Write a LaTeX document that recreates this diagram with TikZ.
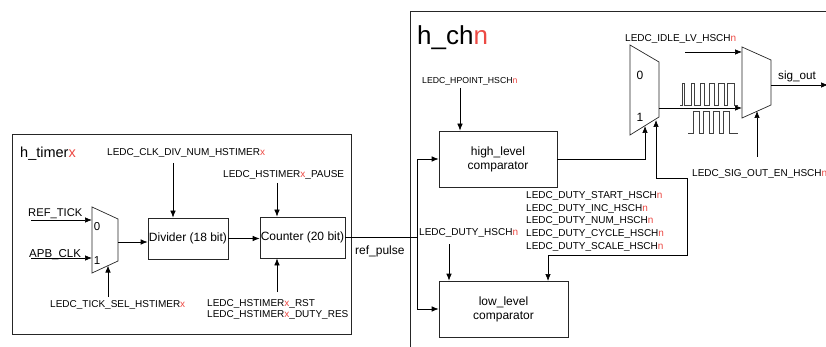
\documentclass[tikz,border=0pt]{standalone}
\usepackage{fontspec}
\setmainfont{Liberation Sans}
\usetikzlibrary{arrows.meta,positioning}
\definecolor{idxred}{HTML}{EC4A44}
\newcommand{\idxx}{\textcolor{idxred}{x}}
\newcommand{\idxn}{\textcolor{idxred}{n}}

\begin{document}
\begin{tikzpicture}[x=1pt,y=-1pt,font=\fontsize{10}{12}\selectfont,
  frame/.style={draw=black!85, line width=0.7pt},
  blk/.style={frame, align=center, inner sep=0pt, font=\fontsize{12}{14}\selectfont},
  wire/.style={line width=0.7pt},
  arr/.style={wire, -{Latex[length=7pt,width=5.5pt]}},
  reg/.style={inner sep=0pt, anchor=base west},
  wave/.style={black!75, line width=0.6pt}]
\useasboundingbox (0,0) rectangle (826,347);

% h_timerx: clock select, divider and counter
\draw[frame] (12,134) rectangle (351,334);
\node[reg, font=\fontsize{14.5}{17}\selectfont] (tmrname) at (20,158) {h\_timer\idxx};
\draw[frame] (92,207) coordinate (m1a) -- (118,219) -- (118,261) -- (92,273) -- cycle;
\node[font=\fontsize{11.5}{13}\selectfont] (m1zero) at (97,227) {0};
\node[font=\fontsize{11.5}{13}\selectfont] (m1one) at (97,261) {1};
\node[reg, font=\fontsize{11.2}{13}\selectfont] (reftick) at (28,217) {REF\_TICK};
\node[reg, font=\fontsize{11.5}{13}\selectfont] (apbclk) at (29,257) {APB\_CLK};
\coordinate (reftickin) at (31,220);
\coordinate (apbclkin) at (31,258);
\draw[arr] (reftickin) -- (reftickin -| m1a);
\draw[arr] (apbclkin) -- (apbclkin -| m1a);
\node[reg] (ticksel) at (50,307) {LEDC\_TICK\_SEL\_HSTIMER\idxx};
\coordinate (tickselin) at (108,297);
\draw[arr] (tickselin) -- (108,265.5);

\node[blk, minimum width=80pt, minimum height=41pt] (div) at (188,238.5) {Divider (18 bit)};
\node[blk, minimum width=85pt, minimum height=41pt] (cnt) at (302.5,237.5) {Counter (20 bit)};
\coordinate (m1out) at (118,242);
\draw[arr] (m1out) -- (m1out -| div.west);
\draw[arr] (div.east) -- (div.east -| cnt.west);

\node[reg] (divnum) at (107,156) {LEDC\_CLK\_DIV\_NUM\_HSTIMER\idxx};
\coordinate (divnumin) at (173,163);
\draw[arr] (divnumin) -- (divnumin |- div.north);
\node[reg] (pause) at (223,178) {LEDC\_HSTIMER\idxx\_PAUSE};
\coordinate (pausein) at (277,183);
\draw[arr] (pausein) -- (pausein |- cnt.north);
\node[reg] (rst) at (207,306) {LEDC\_HSTIMER\idxx\_RST};
\node[reg] (dutyres) at (207,317) {LEDC\_HSTIMER\idxx\_DUTY\_RES};
\coordinate (rstin) at (277,292);
\draw[arr] (rstin) -- (rstin |- cnt.south);

% ref_pulse into the channel
\node[reg, font=\fontsize{12}{14}\selectfont] (refpulse) at (355,254) {ref\_pulse};
\coordinate (bus) at (417,238);

% h_chn: comparators and output muxes
\draw[frame] (826,11) -- (410,11) -- (410,350);
\node[reg, font=\fontsize{26}{30}\selectfont] (chname) at (417,45) {h\_ch\idxn};
\node[blk, minimum width=118pt, minimum height=56pt] (hicmp) at (498,159) {high\_level\\comparator};
\node[blk, minimum width=129pt, minimum height=56pt] (locmp) at (503.5,309) {low\_level\\comparator};
\draw[wire] (cnt.east) -- (cnt.east -| bus);
\draw[arr] (bus) |- (hicmp.west);
\draw[arr] (bus) |- (locmp.west);

\node[reg, font=\fontsize{8.7}{10}\selectfont] (hpoint) at (422,84) {LEDC\_HPOINT\_HSCH\idxn};
\coordinate (hpointin) at (460,88);
\draw[arr] (hpointin) -- (hpointin |- hicmp.north);
\node[reg] (dutyhsch) at (419,236) {LEDC\_DUTY\_HSCH\idxn};
\coordinate (dutyin) at (449,244);
\draw[arr] (dutyin) -- (dutyin |- locmp.north);
\foreach \nm [count=\k from 0] in {START,INC,NUM,CYCLE,SCALE}
  \node[reg] (duty\nm) at (526,199+12.5*\k) {LEDC\_DUTY\_\nm\_HSCH\idxn};

% mux between the comparators
\draw[frame] (630,45) coordinate (m2a) -- (659,62) -- (659,117) coordinate (m2b) -- (630,135) -- cycle;
\node[font=\fontsize{12}{14}\selectfont] (m2zero) at (640,75) {0};
\node[font=\fontsize{12}{14}\selectfont] (m2one) at (640,117) {1};
\coordinate (m2sel) at (645,126);
\coordinate (m2en) at (656,120);
\coordinate (dutyturn) at (687,255);
\draw[arr] (hicmp.east) -| (m2sel);
\draw[wire, {Latex[length=7pt,width=5.5pt]}-{Latex[length=7pt,width=5.5pt]}]
  (m2en) |- (687,178) -- (dutyturn) -| (548,281);

% idle / output mux
\draw[frame] (742,47) coordinate (m3a) -- (771,60) -- (771,105) -- (742,118) -- cycle;
\node[reg] (idlelv) at (625,42) {LEDC\_IDLE\_LV\_HSCH\idxn};
\coordinate (idlein) at (685,52);
\draw[arr] (idlein) -- (idlein -| m3a);
\coordinate (m2out) at (659,108);
\draw[arr] (m2out) -- (m2out -| m3a);
\draw[wave] (680,105) \foreach \i in {0,...,5}{ -- (682+9*\i,105) -- (682+9*\i,83) -- (684+10*\i,83) -- (684+10*\i,105) } -- (738,105);
\draw[wave] (688,133) \foreach \i in {0,...,3}{ -- (693+10*\i,133) -- (693+10*\i,111) -- (699+10*\i,111) -- (699+10*\i,133) } -- (738,133);
\coordinate (m3out) at (771,85);
\coordinate (sigend) at (828,85);
\draw[arr] (m3out) -- (sigend);
\node[reg, font=\fontsize{11.7}{14}\selectfont] (sigout) at (778,80) {sig\_out};
\node[reg] (sigouten) at (692,177) {LEDC\_SIG\_OUT\_EN\_HSCH\idxn};
\coordinate (sigenin) at (757,157);
\draw[arr] (sigenin) -- (757,111);
\end{tikzpicture}
\end{document}
